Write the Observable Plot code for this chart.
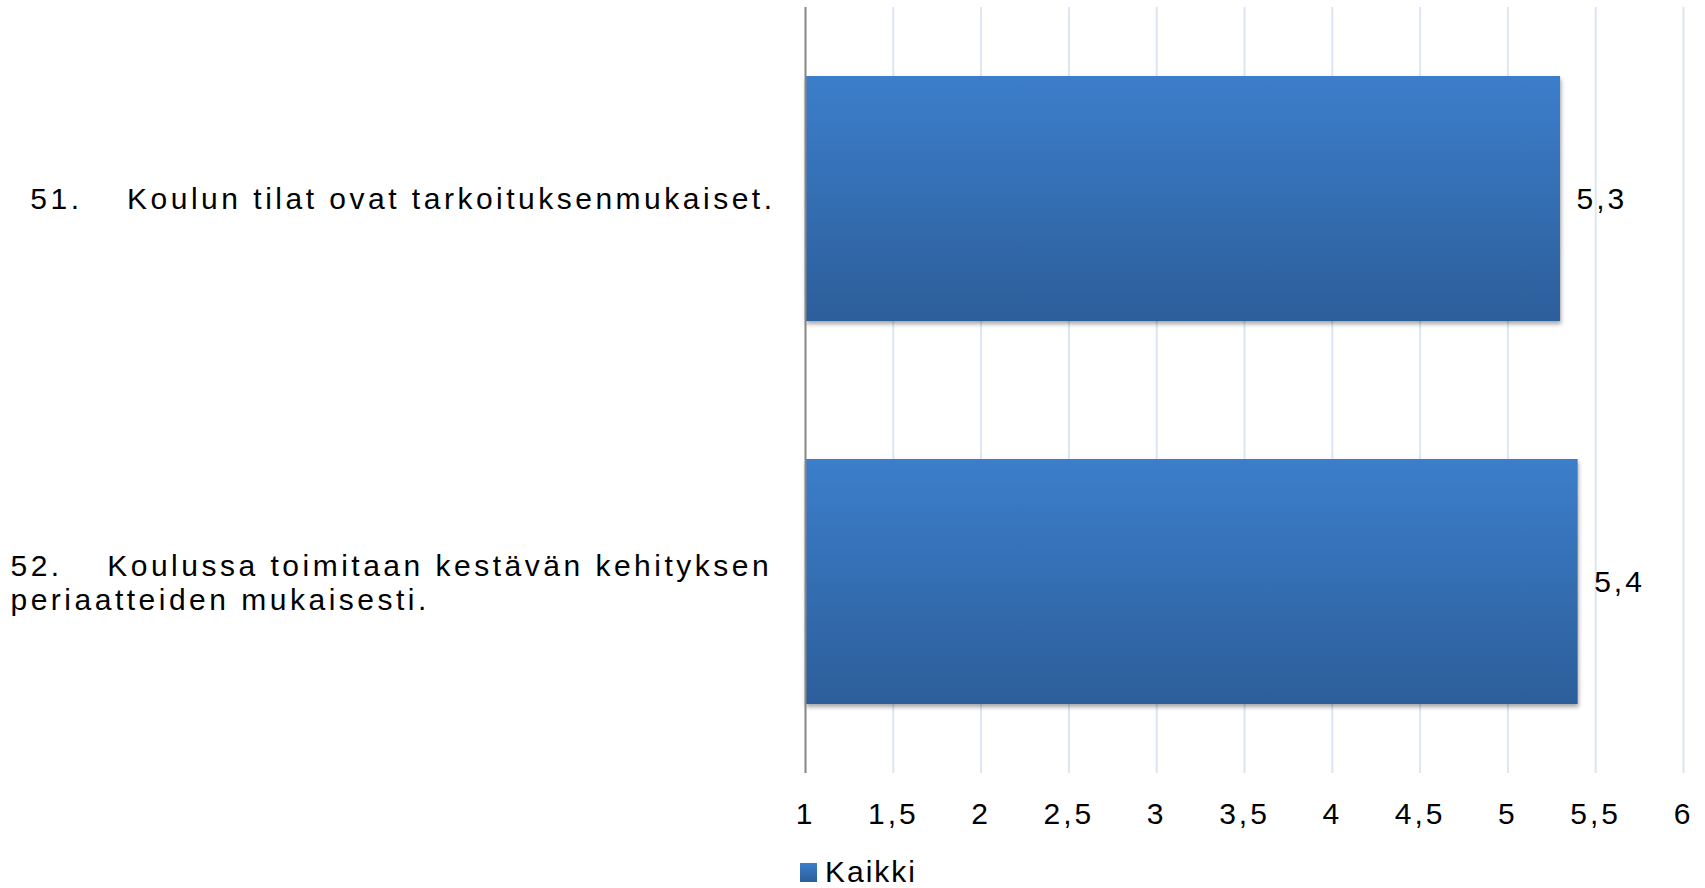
<!DOCTYPE html>
<html>
<head>
<meta charset="utf-8">
<script src="https://cdn.jsdelivr.net/npm/d3@7"></script>
<script src="https://cdn.jsdelivr.net/npm/@observablehq/plot@0.6"></script>
<style>
  html, body { margin: 0; padding: 0; background: #fff; }
  #wrap { position: relative; width: 1705px; height: 888px; overflow: hidden; }
  #wrap svg { display: block; }
  #wrap svg text { letter-spacing: 3px; white-space: pre; }
  #wrap svg g.catlbl text { letter-spacing: 3.5px; }
  g[aria-label="bar"] rect { filter: drop-shadow(1px 3px 2px rgba(0,0,0,0.35)); }
  .legend { position: absolute; left: 800px; top: 859px; font: 30px "Liberation Sans", Arial, sans-serif; line-height: 26px; letter-spacing: 2px; color: #000; }
  .legend .sw { position: absolute; left: 0; top: 4px; width: 17px; height: 19px; background: linear-gradient(#3C7ECB, #2C5E9A); }
  .legend .lbl { position: absolute; left: 25px; top: 0; white-space: nowrap; }
</style>
</head>
<body>
<div id="wrap"></div>
<script>
// ---- data ----
const categories = [
  "51.\u2003\u2005Koulun tilat ovat tarkoituksenmukaiset.",
  "52.\u2003\u2005Koulussa toimitaan kestävän kehityksen\nperiaatteiden mukaisesti."
];
const values = [5.3, 5.4];
const xTicks = [1, 1.5, 2, 2.5, 3, 3.5, 4, 4.5, 5, 5.5, 6];
const seriesName = "Kaikki";

const rows = categories.map((c, i) => ({category: c, value: values[i]}));
const fmt = d => String(d).replace(".", ",");

const gradient = () => {
  const defs = d3.create("svg:defs");
  const g = defs.append("linearGradient").attr("id", "barGrad")
    .attr("x1", 0).attr("y1", 0).attr("x2", 0).attr("y2", 1);
  g.append("stop").attr("offset", "0%").attr("stop-color", "#3C7ECB");
  g.append("stop").attr("offset", "100%").attr("stop-color", "#2C5E9A");
  return defs.node();
};

const chart = Plot.plot({
  width: 1705,
  height: 848,
  marginTop: 7,
  marginBottom: 75,
  marginLeft: 805,
  marginRight: 22,
  style: {fontSize: "30px", fontFamily: "'Liberation Sans', Arial, sans-serif", color: "#000", background: "#fff"},
  x: {domain: [1, 6], ticks: xTicks, tickSize: 0, tickPadding: 29, tickFormat: fmt, label: null},
  y: {domain: categories, axis: null, paddingInner: 0.36, paddingOuter: 0.18},
  marks: [
    gradient,
    Plot.ruleX(xTicks.filter(d => d > 1), {stroke: "#DCE6F2", strokeWidth: 2}),
    Plot.barX(rows, {x1: 1, x2: "value", y: "category", fill: "url(#barGrad)"}),
    Plot.ruleX([1], {stroke: "#868686", strokeWidth: 2}),
    Plot.text(rows, {x: "value", y: "category", text: d => fmt(d.value), textAnchor: "start", dx: 16, fill: "#000"}),
    Plot.text(rows.filter(d => !d.category.includes("\n")), {y: "category", text: "category", frameAnchor: "left", textAnchor: "end", dx: -30, fill: "#000", className: "catlbl"}),
    Plot.text(rows.filter(d => d.category.includes("\n")), {y: "category", text: "category", frameAnchor: "left", textAnchor: "start", dx: -795, lineHeight: 1.13, fill: "#000", className: "catlbl"})
  ]
});

const wrap = document.getElementById("wrap");
wrap.appendChild(chart);
const legend = document.createElement("div");
legend.className = "legend";
legend.innerHTML = `<span class="sw"></span><span class="lbl">${seriesName}</span>`;
wrap.appendChild(legend);
</script>
</body>
</html>
